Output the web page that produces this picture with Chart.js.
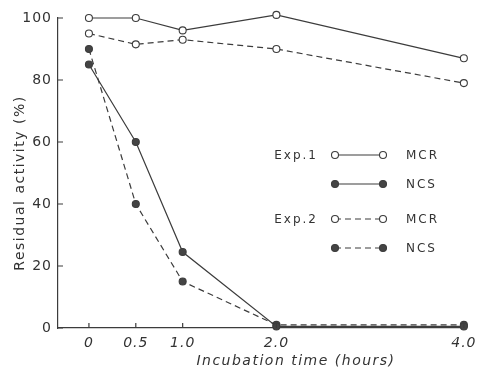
<!DOCTYPE html>
<html>
<head>
<meta charset="utf-8">
<script src="https://cdn.jsdelivr.net/npm/chart.js@4.4.1/dist/chart.umd.min.js"></script>
<style>
  html, body { margin: 0; padding: 0; background: #fff; }
  #wrap { width: 482px; height: 370px; }
</style>
</head>
<body>
<div id="wrap"><canvas id="chart" width="482" height="370"></canvas></div>
<script>
// incubation time in hours
const hours = [0, 0.5, 1.0, 2.0, 4.0];
const xTickValues = [0, 0.5, 1.0, 2.0, 4.0];
const xTickLabels = ["0", "0.5", "1.0", "2.0", "4.0"];
const yTickValues = [0, 20, 40, 60, 80, 100];

// residual activity (%)
const exp1Mcr = [100, 100, 96, 101, 87];
const exp1Ncs = [85, 60, 24.5, 0.5, 0.5];
const exp2Mcr = [95, 91.5, 93, 90, 79];
const exp2Ncs = [90, 40, 15, 1, 1];

const ink = "#333";
const lineInk = "#3c3c3c";
const fontFamily = "'DejaVu Sans', sans-serif";
const dash = [6, 4];

function toPoints(values) {
  return hours.map((h, i) => ({ x: h, y: values[i] }));
}

function series(label, values, filled, dashed) {
  return {
    label: label,
    data: toPoints(values),
    borderColor: lineInk,
    borderWidth: 1.2,
    borderDash: dashed ? dash : [],
    pointRadius: 3.5,
    pointBorderWidth: 1.1,
    pointBorderColor: lineInk,
    pointBackgroundColor: filled ? "#444" : "#fff",
    showLine: true,
    fill: false,
    tension: 0,
  };
}

// short tick marks pointing into the plot, plus titles and the keyed legend
const decorations = {
  id: "decorations",
  beforeDraw(chart) {
    chart.ctx.letterSpacing = "1px";
  },
  afterDraw(chart) {
    const ctx = chart.ctx;
    const x = chart.scales.x;
    const y = chart.scales.y;
    const area = chart.chartArea;
    ctx.save();
    ctx.strokeStyle = lineInk;
    ctx.lineWidth = 1.2;
    ctx.beginPath();
    xTickValues.forEach((v) => {
      const px = x.getPixelForValue(v);
      ctx.moveTo(px, area.bottom);
      ctx.lineTo(px, area.bottom - 5);
    });
    yTickValues.forEach((v) => {
      const py = y.getPixelForValue(v);
      ctx.moveTo(area.left, py);
      ctx.lineTo(area.left + 5, py);
    });
    ctx.stroke();

    // axis titles
    ctx.fillStyle = ink;
    ctx.letterSpacing = "1.5px";
    ctx.font = "italic 14px " + fontFamily;
    ctx.textAlign = "center";
    ctx.textBaseline = "middle";
    ctx.fillText("Incubation time (hours)", 296, 361);
    ctx.save();
    ctx.translate(20, 183);
    ctx.rotate(-Math.PI / 2);
    ctx.font = "14px " + fontFamily;
    ctx.fillText("Residual activity (%)", 0, 0);
    ctx.restore();

    // legend
    const rows = [
      { group: "Exp.1", name: "MCR", filled: false, dashed: false, y: 155 },
      { group: "", name: "NCS", filled: true, dashed: false, y: 184 },
      { group: "Exp.2", name: "MCR", filled: false, dashed: true, y: 219 },
      { group: "", name: "NCS", filled: true, dashed: true, y: 248 },
    ];
    const x1 = 335, x2 = 383;
    ctx.font = "12px " + fontFamily;
    ctx.letterSpacing = "2px";
    rows.forEach((r) => {
      ctx.strokeStyle = lineInk;
      ctx.lineWidth = 1.1;
      ctx.setLineDash(r.dashed ? dash : []);
      ctx.beginPath();
      ctx.moveTo(x1, r.y);
      ctx.lineTo(x2, r.y);
      ctx.stroke();
      ctx.setLineDash([]);
      [x1, x2].forEach((cx) => {
        ctx.beginPath();
        ctx.arc(cx, r.y, 3.5, 0, Math.PI * 2);
        ctx.fillStyle = r.filled ? "#444" : "#fff";
        ctx.fill();
        ctx.stroke();
      });
      ctx.fillStyle = ink;
      ctx.textAlign = "left";
      ctx.fillText(r.name, 406, r.y + 1);
      if (r.group) {
        ctx.textAlign = "right";
        ctx.fillText(r.group, 318, r.y + 1);
      }
    });
    ctx.restore();
  },
};

new Chart(document.getElementById("chart"), {
  type: "scatter",
  data: {
    datasets: [
      series("Exp.1 MCR", exp1Mcr, false, false),
      series("Exp.1 NCS", exp1Ncs, true, false),
      series("Exp.2 MCR", exp2Mcr, false, true),
      series("Exp.2 NCS", exp2Ncs, true, true),
    ],
  },
  options: {
    responsive: false,
    animation: false,
    clip: false,
    layout: { padding: { top: 18, right: 12, left: 0, bottom: 0 } },
    plugins: {
      legend: { display: false },
      tooltip: { enabled: false },
    },
    scales: {
      x: {
        type: "linear",
        min: -0.33,
        max: 4.0,
        afterBuildTicks(scale) {
          scale.ticks = xTickValues.map((v) => ({ value: v }));
        },
        afterFit(scale) {
          scale.height = 42;
        },
        ticks: {
          color: ink,
          padding: 7,
          maxRotation: 0,
          font: { family: fontFamily, size: 14, style: "italic" },
          callback: (value) => xTickLabels[xTickValues.indexOf(value)],
        },
        grid: { display: false, drawTicks: false },
        border: { display: true, color: lineInk, width: 1.2 },
      },
      y: {
        min: 0,
        max: 100,
        afterBuildTicks(scale) {
          scale.ticks = yTickValues.map((v) => ({ value: v }));
        },
        afterFit(scale) {
          scale.width = 58;
        },
        ticks: {
          color: ink,
          padding: 6,
          font: { family: fontFamily, size: 14 },
        },
        grid: { display: false, drawTicks: false },
        border: { display: true, color: lineInk, width: 1.2 },
      },
    },
  },
  plugins: [decorations],
});
</script>
</body>
</html>
